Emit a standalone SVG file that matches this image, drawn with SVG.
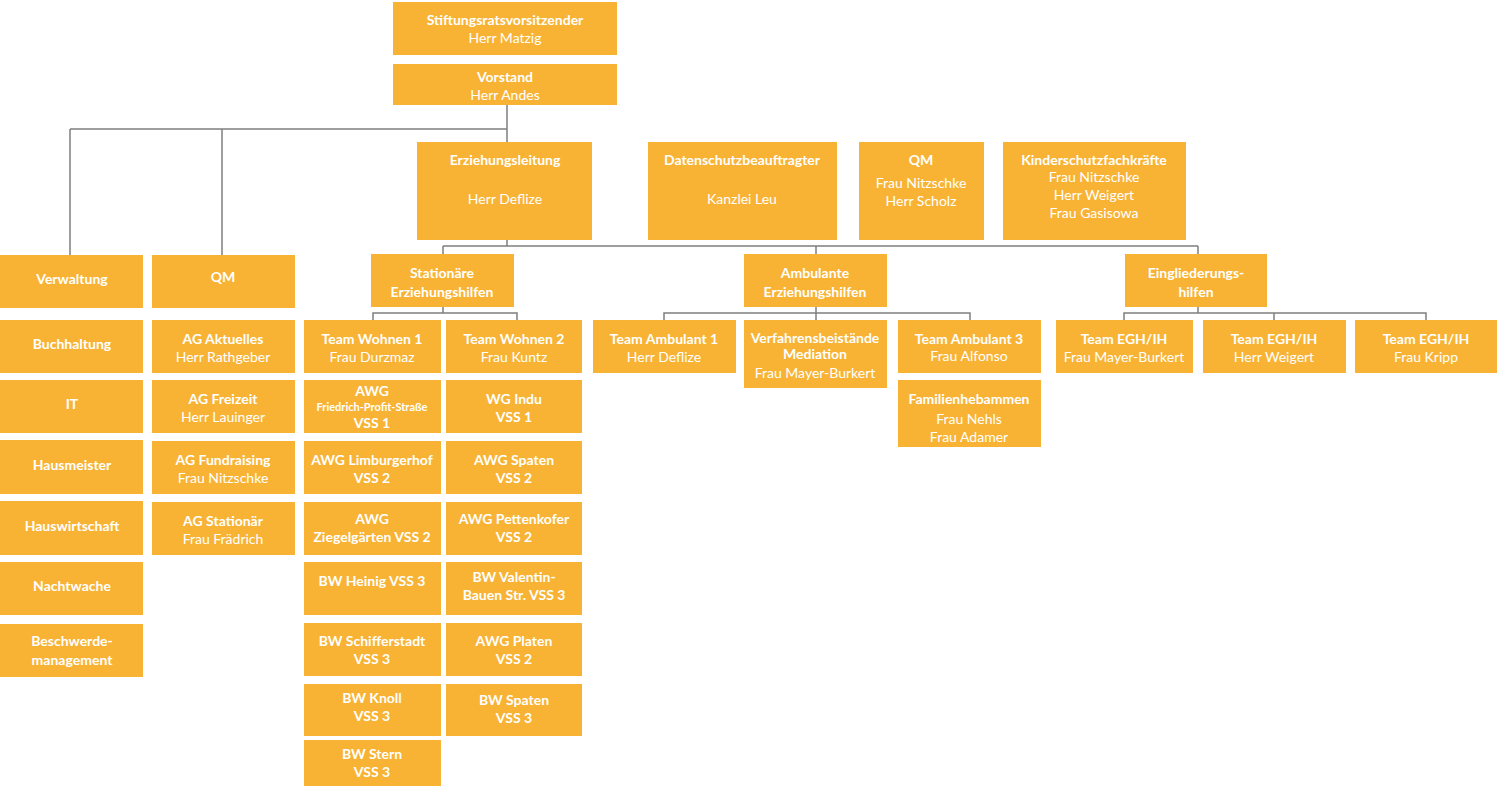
<svg xmlns="http://www.w3.org/2000/svg" width="1500" height="787" viewBox="0 0 1500 787">
<style>
rect{fill:#F8B334}
text{font-family:Lato,"Open Sans",sans-serif;fill:#fff;text-anchor:middle;font-size:14px}
.b{font-weight:bold}
.s{font-size:11px;font-weight:bold}
.c path{stroke:#7f7f7f;stroke-width:1.5;fill:none}
</style>
<g class="c">
<path d="M507 105V142M70 129H507M70 129V255M222 129V255"/>
<path d="M507 240V246M443 246H1198M443 246V254M816 246V254M1198 246V254"/>
<path d="M443 307V313H373V320M443 313H517V320"/>
<path d="M816 307V313H664V320M816 313H970V320M816 313V320"/>
<path d="M1198 307V313H1124V320M1198 313H1426V320M1274 313V320"/>
</g>
<g id="n1"><rect x="393" y="2" width="224" height="53"/><text x="505" y="25" class="b">Stiftungsratsvorsitzender</text><text x="505" y="43">Herr Matzig</text></g>
<g id="n2"><rect x="393" y="64" width="224" height="41"/><text x="505" y="82" class="b">Vorstand</text><text x="505" y="100">Herr Andes</text></g>
<g id="n3"><rect x="417" y="142" width="175" height="98"/><text x="505" y="165" class="b">Erziehungsleitung</text><text x="505" y="204">Herr Deflize</text></g>
<g id="n4"><rect x="648" y="142" width="189" height="98"/><text x="742" y="165" class="b">Datenschutzbeauftragter</text><text x="742" y="204">Kanzlei Leu</text></g>
<g id="n5"><rect x="859" y="142" width="125" height="98"/><text x="921" y="165" class="b">QM</text><text x="921" y="188">Frau Nitzschke</text><text x="921" y="206">Herr Scholz</text></g>
<g id="n6"><rect x="1003" y="142" width="183" height="98"/><text x="1094" y="165" class="b">Kinderschutzfachkräfte</text><text x="1094" y="182">Frau Nitzschke</text><text x="1094" y="200">Herr Weigert</text><text x="1094" y="218">Frau Gasisowa</text></g>
<g id="n7"><rect x="0" y="255" width="143" height="53"/><text x="72" y="284" class="b">Verwaltung</text></g>
<g id="n8"><rect x="152" y="255" width="143" height="53"/><text x="223" y="282" class="b">QM</text></g>
<g id="n9"><rect x="371" y="254" width="143" height="53"/><text x="442" y="278" class="b">Stationäre</text><text x="442" y="297" class="b">Erziehungshilfen</text></g>
<g id="n10"><rect x="744" y="254" width="143" height="53"/><text x="815" y="278" class="b">Ambulante</text><text x="815" y="297" class="b">Erziehungshilfen</text></g>
<g id="n11"><rect x="1125" y="254" width="142" height="53"/><text x="1196" y="278" class="b">Eingliederungs-</text><text x="1196" y="297" class="b">hilfen</text></g>
<g id="v1"><rect x="0" y="320" width="143" height="53"/><text x="72" y="349" class="b">Buchhaltung</text></g>
<g id="v2"><rect x="0" y="380" width="143" height="53"/><text x="72" y="409" class="b">IT</text></g>
<g id="v3"><rect x="0" y="440" width="143" height="54"/><text x="72" y="470" class="b">Hausmeister</text></g>
<g id="v4"><rect x="0" y="501" width="143" height="54"/><text x="72" y="531" class="b">Hauswirtschaft</text></g>
<g id="v5"><rect x="0" y="562" width="143" height="53"/><text x="72" y="591" class="b">Nachtwache</text></g>
<g id="v6"><rect x="0" y="624" width="143" height="53"/><text x="72" y="646" class="b">Beschwerde-</text><text x="72" y="665" class="b">management</text></g>
<g id="q1"><rect x="152" y="320" width="143" height="53"/><text x="223" y="344" class="b">AG Aktuelles</text><text x="223" y="362">Herr Rathgeber</text></g>
<g id="q2"><rect x="152" y="380" width="143" height="53"/><text x="223" y="404" class="b">AG Freizeit</text><text x="223" y="422">Herr Lauinger</text></g>
<g id="q3"><rect x="152" y="441" width="143" height="53"/><text x="223" y="465" class="b">AG Fundraising</text><text x="223" y="483">Frau Nitzschke</text></g>
<g id="q4"><rect x="152" y="502" width="143" height="53"/><text x="223" y="526" class="b">AG Stationär</text><text x="223" y="544">Frau Frädrich</text></g>
<g id="s1"><rect x="304" y="320" width="137" height="53"/><text x="372" y="344" class="b">Team Wohnen 1</text><text x="372" y="362">Frau Durzmaz</text></g>
<g id="s2"><rect x="446" y="320" width="136" height="53"/><text x="514" y="344" class="b">Team Wohnen 2</text><text x="514" y="362">Frau Kuntz</text></g>
<g id="s3"><rect x="304" y="380" width="137" height="53"/><text x="372" y="396" class="b">AWG</text><text x="372" y="411" class="s">Friedrich-Profit-Straße</text><text x="372" y="428" class="b">VSS 1</text></g>
<g id="s4"><rect x="446" y="380" width="136" height="53"/><text x="514" y="404" class="b">WG Indu</text><text x="514" y="422" class="b">VSS 1</text></g>
<g id="s5"><rect x="304" y="441" width="137" height="53"/><text x="372" y="465" class="b">AWG Limburgerhof</text><text x="372" y="483" class="b">VSS 2</text></g>
<g id="s6"><rect x="446" y="441" width="136" height="53"/><text x="514" y="465" class="b">AWG Spaten</text><text x="514" y="483" class="b">VSS 2</text></g>
<g id="s7"><rect x="304" y="502" width="137" height="53"/><text x="372" y="524" class="b">AWG</text><text x="372" y="542" class="b">Ziegelgärten VSS 2</text></g>
<g id="s8"><rect x="446" y="502" width="136" height="53"/><text x="514" y="524" class="b">AWG Pettenkofer</text><text x="514" y="542" class="b">VSS 2</text></g>
<g id="s9"><rect x="304" y="562" width="137" height="53"/><text x="372" y="586" class="b">BW Heinig VSS 3</text></g>
<g id="s10"><rect x="446" y="562" width="136" height="53"/><text x="514" y="582" class="b">BW Valentin-</text><text x="514" y="600" class="b">Bauen Str. VSS 3</text></g>
<g id="s11"><rect x="304" y="623" width="137" height="53"/><text x="372" y="646" class="b">BW Schifferstadt</text><text x="372" y="664" class="b">VSS 3</text></g>
<g id="s12"><rect x="446" y="623" width="136" height="53"/><text x="514" y="646" class="b">AWG Platen</text><text x="514" y="664" class="b">VSS 2</text></g>
<g id="s13"><rect x="304" y="684" width="137" height="52"/><text x="372" y="703" class="b">BW Knoll</text><text x="372" y="721" class="b">VSS 3</text></g>
<g id="s14"><rect x="446" y="684" width="136" height="52"/><text x="514" y="705" class="b">BW Spaten</text><text x="514" y="723" class="b">VSS 3</text></g>
<g id="s15"><rect x="304" y="740" width="137" height="46"/><text x="372" y="759" class="b">BW Stern</text><text x="372" y="777" class="b">VSS 3</text></g>
<g id="a1"><rect x="593" y="320" width="143" height="53"/><text x="664" y="344" class="b">Team  Ambulant 1</text><text x="664" y="362">Herr Deflize</text></g>
<g id="a2"><rect x="744" y="320" width="143" height="68"/><text x="815" y="343" class="b" font-size="12">Verfahrensbeistände</text><text x="815" y="359" class="b" font-size="12">Mediation</text><text x="815" y="378">Frau Mayer-Burkert</text></g>
<g id="a3"><rect x="898" y="320" width="143" height="53"/><text x="969" y="344" class="b">Team  Ambulant 3</text><text x="969" y="361">Frau Alfonso</text></g>
<g id="a4"><rect x="898" y="380" width="143" height="67"/><text x="969" y="404" class="b">Familienhebammen</text><text x="969" y="424">Frau Nehls</text><text x="969" y="442">Frau Adamer</text></g>
<g id="e1"><rect x="1056" y="320" width="137" height="53"/><text x="1124" y="344" class="b">Team  EGH/IH</text><text x="1124" y="362">Frau Mayer-Burkert</text></g>
<g id="e2"><rect x="1203" y="320" width="143" height="53"/><text x="1274" y="344" class="b">Team  EGH/IH</text><text x="1274" y="362">Herr Weigert</text></g>
<g id="e3"><rect x="1355" y="320" width="142" height="53"/><text x="1426" y="344" class="b">Team  EGH/IH</text><text x="1426" y="362">Frau Kripp</text></g>
</svg>
